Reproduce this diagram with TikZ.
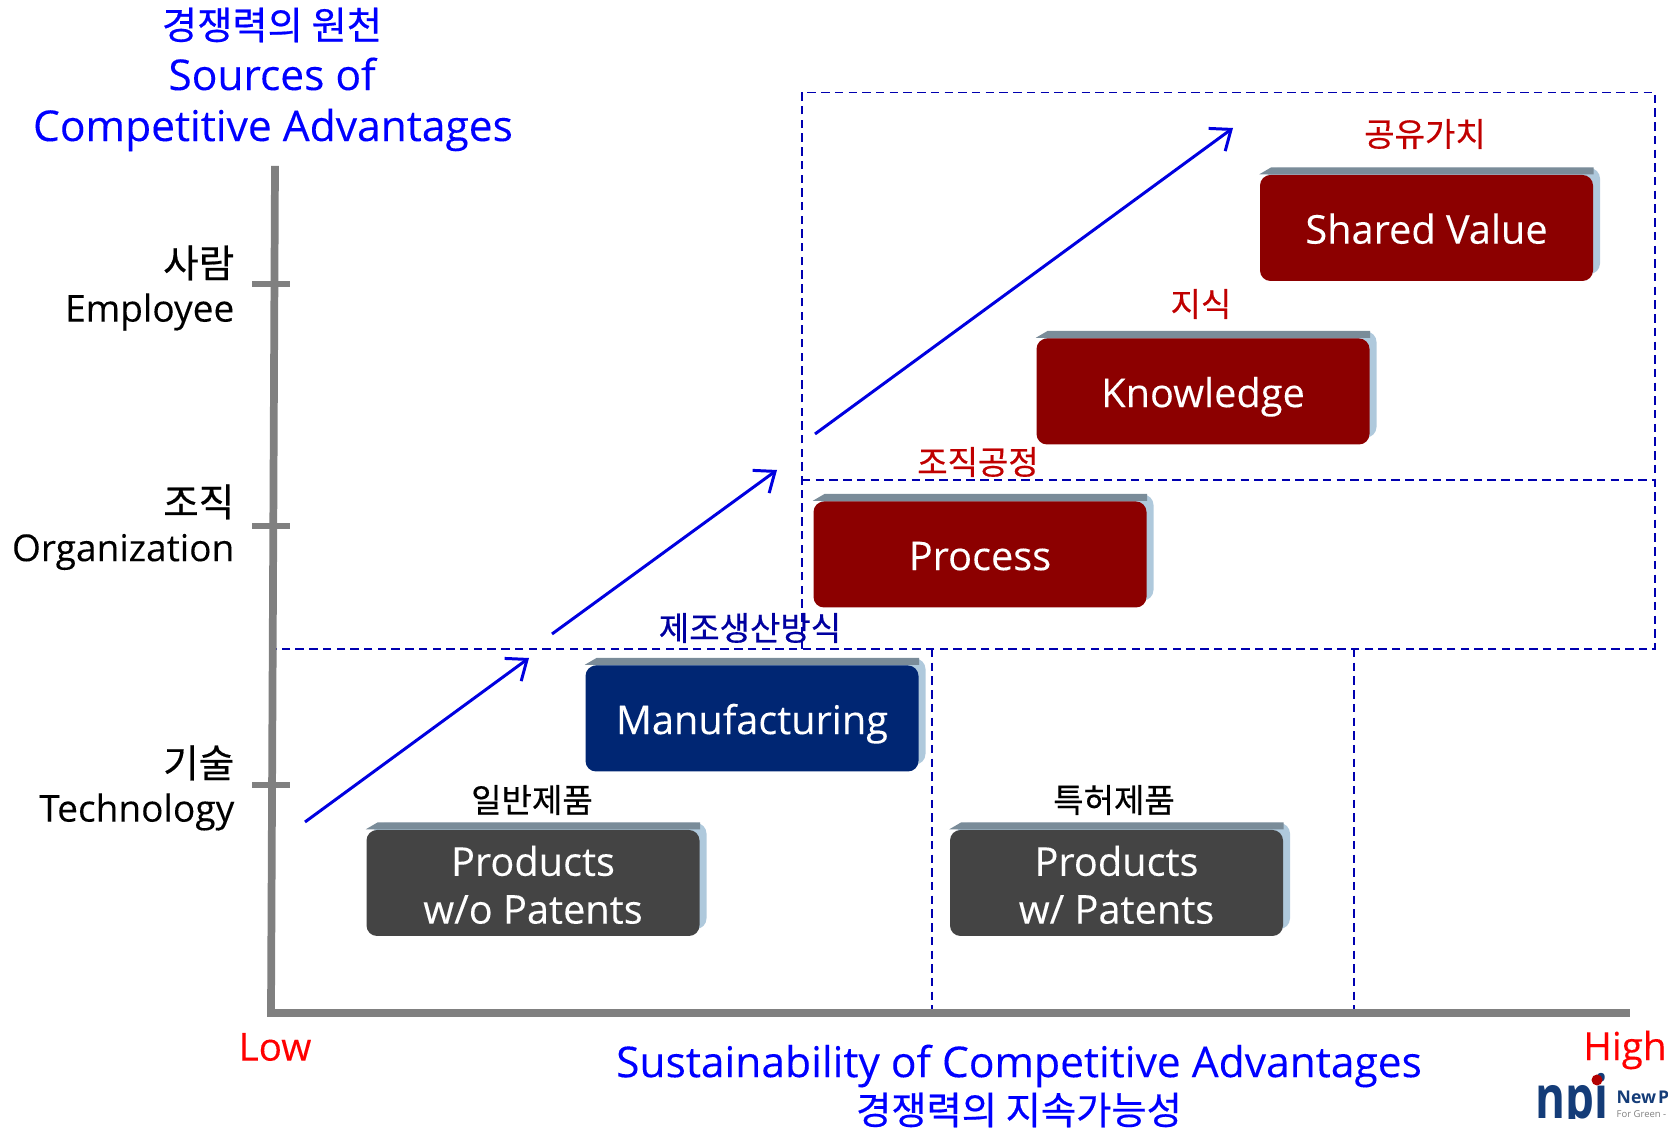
\documentclass[tikz,border=0pt]{standalone}
\usepackage{fontspec}
\setmainfont[FakeBold=0.15]{Open Sans}
\newfontfamily\krfont[FakeBold=0.5]{Noto Sans CJK KR}
\newfontfamily\logofont{Open Sans}
\usetikzlibrary{arrows.meta,calc,positioning}
\definecolor{axisgray}{RGB}{128,128,128}
\definecolor{dashblue}{RGB}{0,0,176}
\definecolor{arrowblue}{RGB}{0,0,224}
\definecolor{titleblue}{RGB}{0,0,255}
\definecolor{labelred}{RGB}{192,0,0}
\definecolor{labelnavy}{RGB}{0,0,160}
\definecolor{boxred}{RGB}{140,0,0}
\definecolor{boxnavy}{RGB}{0,38,115}
\definecolor{boxgray}{RGB}{68,68,68}
\definecolor{sideblue}{RGB}{175,201,220}
\definecolor{topslate}{RGB}{122,140,153}
\definecolor{logoblue}{RGB}{20,60,120}
\newcommand{\oneline}[1]{\rule[-10.6pt]{0pt}{30.1pt}#1}
\newcommand{\twolines}[2]{\rule{0pt}{13pt}#1\\#2\rule[-3.5pt]{0pt}{3.5pt}}
\tikzset{
  axisline/.style={line width=2.2pt, axisgray},
  tickline/.style={line width=1.9pt, axisgray},
  zoneline/.style={line width=0.5pt, dashblue, dash pattern=on 2.4pt off 1.5pt},
  trendarrow/.style={line width=0.85pt, arrowblue, -{Straight Barb[length=5pt,width=8pt]}},
  facebox/.style={rounded corners=3pt, minimum width=3.33cm, minimum height=1.06cm,
    inner sep=0pt, align=center, text=white, font=\fontsize{11.3}{13.6}\selectfont},
  backbox/.style={rounded corners=3pt, minimum width=3.33cm, minimum height=1.06cm,
    inner sep=0pt, fill=sideblue},
  bluetitle/.style={text=titleblue, align=center, font=\fontsize{12.1}{14}\selectfont},
  levellabel/.style={left, inner sep=0pt, font=\fontsize{10.55}{12}\selectfont},
  krlabel/.style={inner sep=0pt, font=\krfont\fontsize{9.4}{11}\selectfont},
  endlabel/.style={inner sep=0pt, text=red, font=\fontsize{11}{12}\selectfont}
}
\begin{document}
\begin{tikzpicture}
  \useasboundingbox (0,0) rectangle (16.68,11.29);

  % zones
  \coordinate (zoneA) at (8.02,10.365);
  \coordinate (zoneB) at (16.55,10.365);
  \coordinate (zoneC) at (16.55,4.80);
  \coordinate (zoneD) at (2.72,4.80);
  \coordinate (zoneE) at (8.02,4.80);
  \coordinate (zoneF) at (8.02,6.49);
  \coordinate (zoneG) at (16.55,6.49);
  \draw[zoneline] (zoneE) -- (zoneA) -- (zoneB) -- (zoneC) -- (zoneD);
  \draw[zoneline] (zoneF) -- (zoneG);
  \coordinate (lowT) at (9.32,4.80);
  \coordinate (lowB) at (9.32,1.17);
  \coordinate (highT) at (13.54,4.80);
  \coordinate (highB) at (13.54,1.17);
  \draw[zoneline] (lowT) -- (lowB);
  \draw[zoneline] (highT) -- (highB);

  % axes
  \coordinate (yTop) at (2.75,9.63);
  \coordinate (origin) at (2.71,1.16);
  \coordinate (xEnd) at (16.26,1.16);
  \draw[axisline] (yTop) -- (origin);
  \draw[axisline, line cap=rect] (origin) -- (xEnd);
  \foreach \name/\y in {tickA/8.45,tickB/6.03,tickC/3.44} {
    \coordinate (\name L) at (2.52,\y);
    \coordinate (\name R) at (2.90,\y);
    \draw[tickline] (\name L) -- (\name R);
  }

  % boxes
  \foreach \name/\x/\y/\col/\txt in {
    shared/14.265/9.01/boxred/\oneline{Shared Value},
    knowledge/12.03/7.375/boxred/\oneline{Knowledge},
    process/9.80/5.745/boxred/\oneline{Process},
    manufacturing/7.52/4.105/boxnavy/\oneline{Manufacturing},
    nopatent/5.33/2.46/boxgray/\twolines{Products}{w/o Patents},
    patent/11.165/2.46/boxgray/\twolines{Products}{w/ Patents}} {
    \node[backbox] (\name back) at (\x+0.07,\y+0.07) {};
    \fill[topslate] ($(\name back.north west)+(0.05,0)$) -- ($(\name back.north east)+(-0.07,0)$)
      -- ($(\name back.north east)+(-0.07,-0.07)$) -- ($(\name back.north west)+(-0.07,-0.07)$) -- cycle;
    \node[facebox, fill=\col] (\name) at (\x,\y) {\txt};
  }

  % trend arrows
  \coordinate (trendA) at (3.05,3.07);
  \coordinate (trendB) at (5.29,4.71);
  \coordinate (trendC) at (5.52,4.95);
  \coordinate (trendD) at (7.77,6.59);
  \coordinate (trendE) at (8.15,6.95);
  \coordinate (trendF) at (12.33,10.01);
  \draw[trendarrow] (trendA) -- (trendB);
  \draw[trendarrow] (trendC) -- (trendD);
  \draw[trendarrow] (trendE) -- (trendF);

  % y title
  \node[bluetitle, font=\krfont\fontsize{10.9}{14}\selectfont] (ytitlekr) at (2.72,11.04) {경쟁력의 원천};
  \node[bluetitle] (ytitleA) at (2.72,10.55) {Sources of};
  \node[bluetitle] (ytitleB) at (2.73,9.99) {Competitive Advantages};

  % levels
  \node[levellabel, font=\krfont\fontsize{11}{12}\selectfont] (peoplekr) at (2.35,8.66) {사람};
  \node[levellabel] (people) at (2.35,8.17) {Employee};
  \node[levellabel, font=\krfont\fontsize{11}{12}\selectfont] (orgkr) at (2.35,6.27) {조직};
  \node[levellabel] (org) at (2.35,5.77) {Organization};
  \node[levellabel, font=\krfont\fontsize{11}{12}\selectfont] (techkr) at (2.35,3.66) {기술};
  \node[levellabel] (tech) at (2.35,3.17) {Technology};

  % x title
  \node[endlabel] (low) at (2.75,0.82) {Low};
  \node[endlabel] (high) at (16.25,0.79) {High};
  \node[bluetitle] (xtitle) at (10.19,0.63) {Sustainability of Competitive Advantages};
  \node[bluetitle, font=\krfont\fontsize{10.9}{14}\selectfont] (xtitlekr) at (10.19,0.19) {경쟁력의 지속가능성};

  % box captions
  \node[krlabel, labelred] (sharedkr) at (14.25,9.95) {공유가치};
  \node[krlabel, labelred] (knowledgekr) at (12.01,8.25) {지식};
  \node[krlabel, labelred] (processkr) at (9.78,6.67) {조직공정};
  \node[krlabel, labelnavy] (manufacturingkr) at (7.50,5.01) {제조생산방식};
  \node[krlabel] (nopatentkr) at (5.32,3.29) {일반제품};
  \node[krlabel] (patentkr) at (11.14,3.29) {특허제품};

  % logo
  \begin{scope}
    \clip (15.30,0.10) rectangle (16.10,0.70);
    \node[inner sep=0pt, anchor=base west, yscale=1.3, logoblue, font=\logofont\bfseries\fontsize{13}{14}\selectfont] (logo) at (15.35,0.10) {npi};
  \end{scope}
  \fill[red!70!black] (15.97,0.49) circle (0.055);
  \node[inner sep=0pt, anchor=west, logoblue, font=\logofont\bfseries\fontsize{5}{6}\selectfont] (logoname) at (16.16,0.32) {New\hspace{0.6pt}P};
  \node[inner sep=0pt, anchor=west, gray, font=\logofont\fontsize{2.7}{3}\selectfont] (logosub) at (16.16,0.15) {For Green -};
\end{tikzpicture}
\end{document}
